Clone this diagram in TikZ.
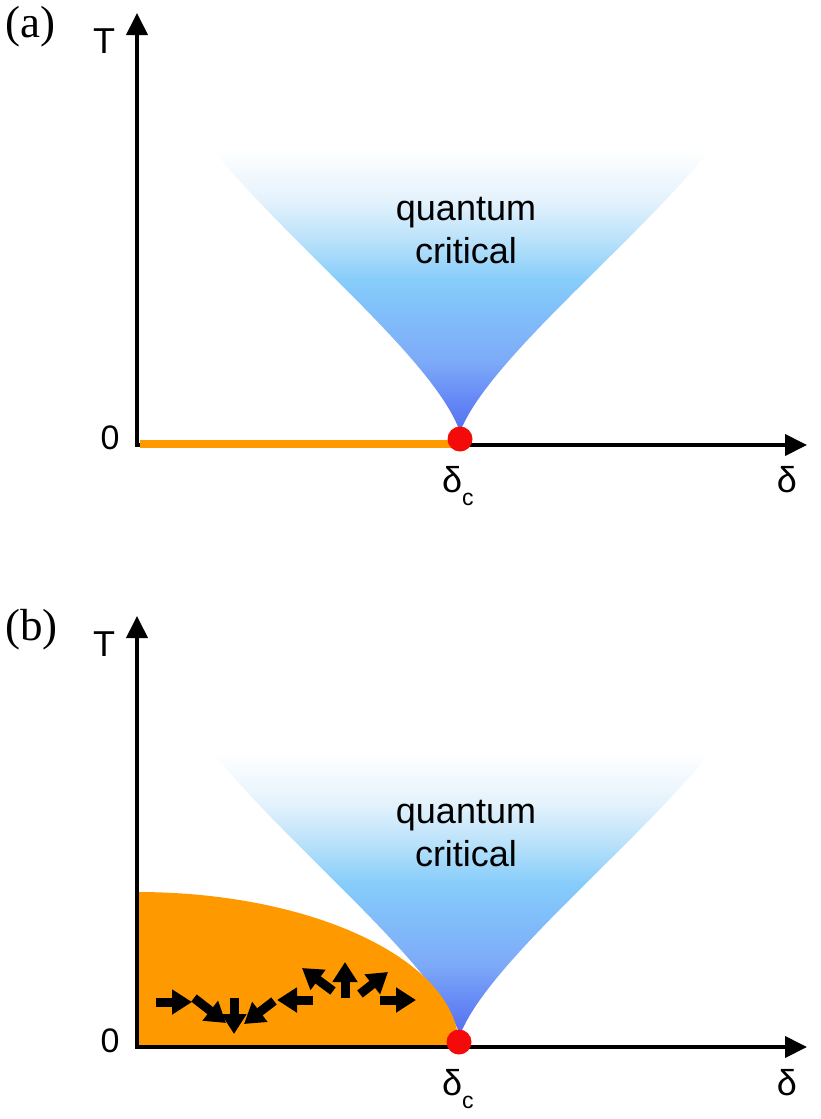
\documentclass[tikz,border=0pt]{standalone}
\usepackage{fontspec}
\setmainfont{Liberation Sans}
\newfontfamily\tmsfont{Liberation Serif}
\usetikzlibrary{arrows.meta}
\definecolor{qorange}{RGB}{255,153,0}
\definecolor{qred}{RGB}{245,10,10}
\definecolor{qcA}{RGB}{85,110,240}
\definecolor{qcB}{RGB}{100,135,245}
\definecolor{qcC}{RGB}{125,170,248}
\definecolor{qcD}{RGB}{130,195,250}
\definecolor{qcE}{RGB}{135,205,250}
\definecolor{qcF}{RGB}{185,225,250}
\definecolor{qcG}{RGB}{228,242,252}
\pgfdeclareverticalshading{qcshade}{100bp}{color(0bp)=(qcA); color(25bp)=(qcA); color(30.4bp)=(qcB); color(37.5bp)=(qcC); color(48bp)=(qcD); color(52bp)=(qcE); color(59bp)=(qcF); color(66bp)=(qcG); color(75bp)=(white); color(100bp)=(white)}
\tikzset{
  axisline/.style={line width=4pt, -{Triangle[length=22pt,width=21pt]}},
  spinarrow/.style={line width=9pt, -{Triangle[length=20pt,width=24pt]}},
  qctext/.style={font=\fontsize{36}{43}\selectfont, anchor=base, inner sep=0pt},
  axlabel/.style={font=\fontsize{36}{40}\selectfont, anchor=base, inner sep=0pt},
  zerolabel/.style={font=\fontsize{34}{40}\selectfont, anchor=base, inner sep=0pt},
  panellabel/.style={font=\tmsfont\fontsize{45}{48}\selectfont, anchor=base west, inner sep=0pt},
  qdot/.style={fill=qred},
}
\begin{document}
\begin{tikzpicture}[x=1pt,y=-1pt]
\useasboundingbox (0,0) rectangle (820,1119);
% ===== panel (a) =====
\shade[shading=qcshade] (213,150) .. controls (290,245) and (435,360) .. (460,432)
   .. controls (488,360) and (633,245) .. (710,150) -- cycle;
\node[qctext] (qa1) at (466,220) {quantum};
\node[qctext] (qa2) at (466,263) {critical};
\coordinate (oA) at (137,445);
\coordinate (tA) at (137,13);
\coordinate (xA) at (807,445);
\draw[axisline] ([yshift=2pt]oA) -- (tA);
\draw[axisline] ([xshift=-2pt]oA) -- (xA);
\coordinate (gA1) at (140,444);
\coordinate (gA2) at (458,444);
\draw[qorange, line width=8pt] (gA1) -- (gA2);
\fill[qdot] (460,439) circle (12.5) coordinate (cA);
\node[panellabel] (la) at (5,37) {(a)};
\node[axlabel] (TA) at (104,53) {T};
\node[zerolabel] (zA) at (110,449) {0};
\node[font=\fontsize{36}{40}\selectfont, anchor=base west, inner sep=0pt] (dcA) at (442,492) {δ\raisebox{-13pt}{\fontsize{23}{23}\selectfont c}};
\node[axlabel] (dA) at (787,492) {δ};
% ===== panel (b) =====
\begin{scope}[shift={(0,603)}]
\shade[shading=qcshade] (213,150) .. controls (290,245) and (435,360) .. (460,432)
   .. controls (488,360) and (633,245) .. (710,150) -- cycle;
\node[qctext] (qb1) at (466,220) {quantum};
\node[qctext] (qb2) at (466,263) {critical};
\fill[qorange] (137,289) .. controls (314.8,289) and (459,358.4) .. (459,444) -- (137,444) -- cycle;
\coordinate (oB) at (137,444);
\coordinate (tB) at (137,13);
\coordinate (xB) at (807,444);
\draw[axisline] ([yshift=2pt]oB) -- (tB);
\draw[axisline] ([xshift=-2pt]oB) -- (xB);
\fill[qdot] (459,439) circle (12.5) coordinate (cB);
\node[panellabel] (lb) at (5,37) {(b)};
\node[axlabel] (TB) at (104,53) {T};
\node[zerolabel] (zB) at (110,449) {0};
\node[font=\fontsize{36}{40}\selectfont, anchor=base west, inner sep=0pt] (dcB) at (442,492) {δ\raisebox{-13pt}{\fontsize{23}{23}\selectfont c}};
\node[axlabel] (dB) at (787,492) {δ};
\end{scope}
% spin arrows
\coordinate (s1a) at (156,1002); \coordinate (s1b) at (192,1002);
\coordinate (s2a) at (194,998);  \coordinate (s2b) at (226,1023);
\coordinate (s3a) at (234,998);  \coordinate (s3b) at (234,1034);
\coordinate (s4a) at (274,1001); \coordinate (s4b) at (244,1024);
\coordinate (s5a) at (313,1000); \coordinate (s5b) at (277,1000);
\coordinate (s6a) at (333,991);  \coordinate (s6b) at (302,968);
\coordinate (s7a) at (345,998);  \coordinate (s7b) at (345,962);
\coordinate (s8a) at (360,994);  \coordinate (s8b) at (388,972);
\coordinate (s9a) at (380,1000); \coordinate (s9b) at (416,1000);
\foreach \i in {1,...,9} {\draw[spinarrow] (s\i a) -- (s\i b);}
\end{tikzpicture}
\end{document}
